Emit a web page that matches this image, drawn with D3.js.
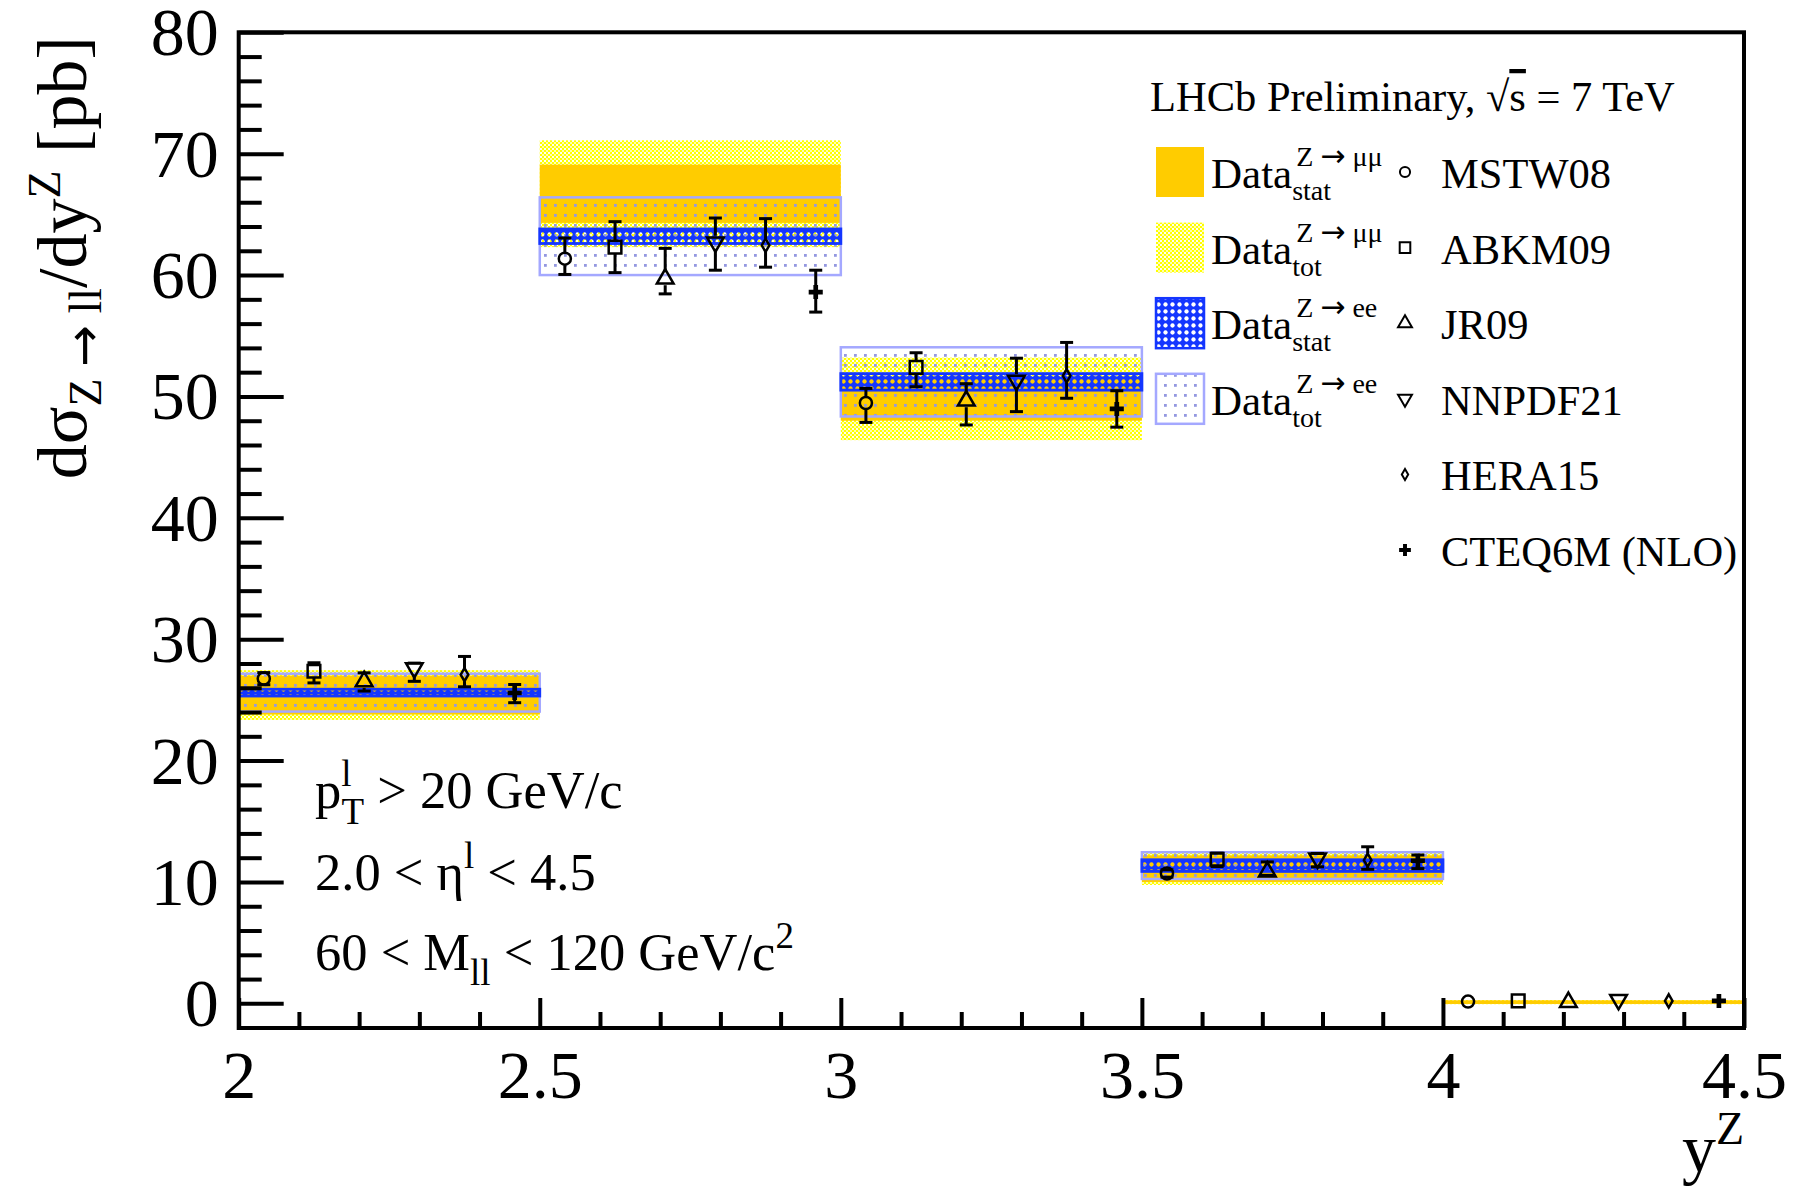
<!DOCTYPE html>
<html>
<head>
<meta charset="utf-8">
<script src="https://cdn.jsdelivr.net/npm/d3@7"></script>
<style>
  body { margin: 0; background: #fff; }
  svg { display: block; }
  text { font-family: "Liberation Serif", "Times New Roman", serif; fill: #000; }
  .arrow { font-family: "DejaVu Sans", sans-serif; }
</style>
</head>
<body>
<svg id="chart" width="1797" height="1197"></svg>
<script>
// ---- data: dσ(Z→ll)/dy in bins of boson rapidity [pb] ----
const binEdges = [2.0, 2.5, 3.0, 3.5, 4.0, 4.5];

// Z -> mu mu measurement: central value, statistical and total uncertainty
const mumuValue = [25.4, 66.7, 49.8, 11.1, 0.10];
const mumuStat  = [1.6, 2.4, 1.8, 1.1, 0.15];
const mumuTot   = [2.05, 4.4, 3.4, 1.35, 0.17];

// Z -> e e measurement (first four bins)
const eeValue = [25.6, 63.2, 51.2, 11.35];
const eeStat  = [0.28, 0.6, 0.68, 0.48];
const eeTot   = [1.56, 3.2, 2.85, 1.1];

// NLO predictions with different PDF sets: value, upper and lower uncertainty
const modelNames = ["MSTW08", "ABKM09", "JR09", "NNPDF21", "HERA15", "CTEQ6M (NLO)"];
const mstw08Value  = [26.75, 61.35, 49.46, 10.70, 0.15];
const mstw08Up     = [0.5, 1.7, 1.2, 0.3, 0];
const mstw08Down   = [0.5, 1.3, 1.6, 0.3, 0];
const abkm09Value  = [27.36, 62.3, 52.4, 11.87, 0.20];
const abkm09Up     = [0.7, 2.1, 1.2, 0.5, 0];
const abkm09Down   = [0.96, 2.1, 1.6, 0.6, 0];
const jr09Value    = [26.53, 59.7, 49.65, 10.85, 0.10];
const jr09Up       = [0.7, 2.5, 1.4, 0.8, 0];
const jr09Down     = [0.8, 1.25, 2.0, 0.3, 0];
const nnpdf21Value = [27.63, 62.7, 51.3, 11.95, 0.30];
const nnpdf21Up    = [0.4, 2.0, 1.85, 0.4, 0];
const nnpdf21Down  = [1.1, 2.3, 2.55, 0.7, 0];
const hera15Value  = [27.08, 62.45, 51.7, 11.8, 0.20];
const hera15Up     = [1.5, 2.2, 2.75, 1.1, 0];
const hera15Down   = [1.0, 1.8, 1.85, 0.76, 0];
const cteq6mValue  = [25.57, 58.6, 48.97, 11.75, 0.20];
const cteq6mUp     = [0.7, 1.8, 1.5, 0.47, 0];
const cteq6mDown   = [0.8, 1.65, 1.5, 0.65, 0];

const xTickValues = [2, 2.5, 3, 3.5, 4, 4.5];
const xTickLabels = ["2", "2.5", "3", "3.5", "4", "4.5"];
const yTickValues = [0, 10, 20, 30, 40, 50, 60, 70, 80];
const yTickLabels = ["0", "10", "20", "30", "40", "50", "60", "70", "80"];

// ---- layout ----
const svg = d3.select("#chart");
const frame = { left: 238.7, right: 1744, top: 32.3, bottom: 1028 };
const x = d3.scaleLinear().domain([2, 4.5]).range([frame.left, frame.right]);
const y = d3.scaleLinear().domain([-2.03, 80]).range([frame.bottom, frame.top]);

const ORANGE = "#ffcc00", YELLOW = "#ffff00", BLUE = "#1436ff", LIGHTBLUE = "#a4a8ff";

// ---- fill patterns ----
const defs = svg.append("defs");
// fine yellow checkerboard for the muon total uncertainty
const pMuTot = defs.append("pattern").attr("id", "patMuTot")
  .attr("width", 4).attr("height", 4).attr("patternUnits", "userSpaceOnUse");
pMuTot.append("rect").attr("width", 4).attr("height", 4).attr("fill", YELLOW);
pMuTot.append("rect").attr("x", 0).attr("y", 0).attr("width", 2).attr("height", 2).attr("fill", "#fffff0");
pMuTot.append("rect").attr("x", 2).attr("y", 2).attr("width", 2).attr("height", 2).attr("fill", "#ffffb0");

// sparse dots for the electron total uncertainty
const pEeTot = defs.append("pattern").attr("id", "patEeTot")
  .attr("width", 10).attr("height", 10).attr("patternUnits", "userSpaceOnUse");
pEeTot.append("rect").attr("x", 4).attr("y", 4).attr("width", 2.8).attr("height", 2.8).attr("fill", "#9498e0");

// blue lattice with round holes for the electron statistical uncertainty
const pEeStat = defs.append("pattern").attr("id", "patEeStat")
  .attr("width", 7).attr("height", 7).attr("patternUnits", "userSpaceOnUse");
pEeStat.append("path")
  .attr("d", "M0,0H7V7H0Z M3.5,1.3 a2.2,2.2 0 1,0 0.001,0Z")
  .attr("fill-rule", "evenodd").attr("fill", BLUE);

// ---- bands ----
const bands = svg.append("g");
const binX = i => x(binEdges[i]);
const binW = i => x(binEdges[i + 1]) - x(binEdges[i]);

function drawBand(values, errs, cls, fill, stroke, sw) {
  bands.selectAll("rect." + cls).data(values).join("rect")
    .attr("class", cls)
    .attr("x", (d, i) => binX(i))
    .attr("width", (d, i) => binW(i))
    .attr("y", (d, i) => y(d + errs[i]))
    .attr("height", (d, i) => y(d - errs[i]) - y(d + errs[i]))
    .attr("fill", fill)
    .attr("stroke", stroke)
    .attr("stroke-width", sw);
}
drawBand(mumuValue, mumuTot, "muTot", "url(#patMuTot)", "none", 0);
drawBand(mumuValue, mumuStat, "muStat", ORANGE, "none", 0);
drawBand(eeValue, eeTot, "eeTot", "url(#patEeTot)", LIGHTBLUE, 2.5);
drawBand(eeValue, eeStat, "eeStat", "url(#patEeStat)", BLUE, 2.8);

// ---- predictions ----
const models = [
  { v: mstw08Value, up: mstw08Up, dn: mstw08Down, sym: d3.symbolCircle, size: 115, fill: "none", rot: 0 },
  { v: abkm09Value, up: abkm09Up, dn: abkm09Down, sym: d3.symbolSquare, size: 160, fill: "none", rot: 0 },
  { v: jr09Value, up: jr09Up, dn: jr09Down, sym: d3.symbolTriangle, size: 120, fill: "none", rot: 0 },
  { v: nnpdf21Value, up: nnpdf21Up, dn: nnpdf21Down, sym: d3.symbolTriangle, size: 120, fill: "none", rot: 180 },
  { v: hera15Value, up: hera15Up, dn: hera15Down, sym: d3.symbolDiamond, size: 50, fill: "none", rot: 0 },
  { v: cteq6mValue, up: cteq6mUp, dn: cteq6mDown, sym: d3.symbolCross, size: 110, fill: "#000", rot: 0 }
];

const pts = svg.append("g");
const gap = 6.5, capHalf = 6.5;
models.forEach((m, k) => {
  m.v.forEach((val, i) => {
    const lo = binEdges[i], hi = binEdges[i + 1];
    const px = x(lo + (k + 0.5) * (hi - lo) / 6);
    const py = y(val);
    const yTop = y(val + m.up[i]), yBot = y(val - m.dn[i]);
    const g = pts.append("g");
    if (m.up[i] > 0) {
      if (py - yTop > gap) g.append("line").attr("x1", px).attr("x2", px).attr("y1", yTop).attr("y2", py - gap);
      g.append("line").attr("x1", px - capHalf).attr("x2", px + capHalf).attr("y1", yTop).attr("y2", yTop);
    }
    if (m.dn[i] > 0) {
      if (yBot - py > gap) g.append("line").attr("x1", px).attr("x2", px).attr("y1", py + gap).attr("y2", yBot);
      g.append("line").attr("x1", px - capHalf).attr("x2", px + capHalf).attr("y1", yBot).attr("y2", yBot);
    }
    g.selectAll("line").attr("stroke", "#000").attr("stroke-width", 3);
    g.append("path")
      .attr("d", d3.symbol().type(m.sym).size(m.size)())
      .attr("transform", `translate(${px},${py}) rotate(${m.rot})`)
      .attr("fill", m.fill)
      .attr("stroke", "#000")
      .attr("stroke-width", m.fill === "none" ? 2.5 : 0);
  });
});

// ---- axes ----
const minorX = d3.range(21, 45).map(v => v / 10).filter(v => Math.abs(v * 2 - Math.round(v * 2)) > 1e-6);
const minorY = d3.range(2, 80, 2).filter(v => v % 10 !== 0);

const axisStyle = sel => {
  sel.select(".domain").remove();
  sel.selectAll(".tick line").attr("stroke", "#000").attr("stroke-width", 4);
};

svg.append("g").attr("transform", `translate(0,${frame.bottom})`)
  .call(d3.axisBottom(x).tickValues(minorX).tickSize(-16).tickFormat(""))
  .call(axisStyle);
const xAxis = svg.append("g").attr("transform", `translate(0,${frame.bottom})`)
  .call(d3.axisBottom(x).tickValues(xTickValues).tickSize(-30)
    .tickFormat((d, i) => xTickLabels[i]))
  .call(axisStyle);
xAxis.selectAll(".tick text").attr("y", 70).attr("dy", 0)
  .attr("font-size", 68).attr("font-family", "Liberation Serif");

svg.append("g").attr("transform", `translate(${frame.left},0)`)
  .call(d3.axisLeft(y).tickValues(minorY).tickSize(-23).tickFormat(""))
  .call(axisStyle);
const yAxis = svg.append("g").attr("transform", `translate(${frame.left},0)`)
  .call(d3.axisLeft(y).tickValues(yTickValues).tickSize(-45).tickPadding(20)
    .tickFormat((d, i) => yTickLabels[i]))
  .call(axisStyle);
yAxis.selectAll(".tick text").attr("dy", "0.33em")
  .attr("font-size", 68).attr("font-family", "Liberation Serif");

// frame
svg.append("rect")
  .attr("x", frame.left).attr("y", frame.top)
  .attr("width", frame.right - frame.left).attr("height", frame.bottom - frame.top)
  .attr("fill", "none").attr("stroke", "#000").attr("stroke-width", 4);

// axis titles
const yTitle = svg.append("text")
  .attr("transform", `translate(86,${frame.top + 4}) rotate(-90)`)
  .attr("text-anchor", "end").attr("font-size", 70);
yTitle.append("tspan").text("dσ");
yTitle.append("tspan").attr("font-size", 46).attr("dy", 15).text("Z ");
yTitle.append("tspan").attr("font-size", 50).attr("class", "arrow").text("→");
yTitle.append("tspan").attr("font-size", 46).text(" ll");
yTitle.append("tspan").attr("dy", -15).text("/dy");
yTitle.append("tspan").attr("font-size", 46).attr("dy", -26).text("Z");
yTitle.append("tspan").attr("dy", 26).text(" [pb]");

const xTitle = svg.append("text")
  .attr("x", frame.right).attr("y", 1172)
  .attr("text-anchor", "end").attr("font-size", 68);
xTitle.append("tspan").text("y");
xTitle.append("tspan").attr("font-size", 46).attr("dy", -28).text("Z");

// ---- cuts annotation ----
const noteSize = 52.5, noteSub = 37;
const n1 = svg.append("text").attr("x", 315).attr("y", 808).attr("font-size", noteSize);
n1.append("tspan").text("p");
n1.append("tspan").attr("font-size", noteSub).attr("dy", -22).text("l");
n1.append("tspan").attr("font-size", noteSub).attr("dx", -10).attr("dy", 38).text("T");
n1.append("tspan").attr("dy", -16).text(" > 20 GeV/c");

const n2 = svg.append("text").attr("x", 315).attr("y", 890).attr("font-size", noteSize);
n2.append("tspan").text("2.0 < η");
n2.append("tspan").attr("font-size", noteSub).attr("dy", -22).text("l");
n2.append("tspan").attr("dy", 22).text(" < 4.5");

const n3 = svg.append("text").attr("x", 315).attr("y", 970).attr("font-size", noteSize);
n3.append("tspan").text("60 < M");
n3.append("tspan").attr("font-size", noteSub).attr("dy", 15).text("ll");
n3.append("tspan").attr("dy", -15).text(" < 120 GeV/c");
n3.append("tspan").attr("font-size", noteSub).attr("dy", -22).text("2");

// ---- legend ----
const legSize = 42.5;
const head = svg.append("text").attr("x", 1150).attr("y", 111).attr("font-size", legSize);
head.append("tspan").text("LHCb Preliminary, √");
head.append("tspan").attr("text-decoration", "overline").text("s");
head.append("tspan").text(" = 7 TeV");

const rowY = k => 172 + k * 75.6;
const dataEntries = [
  { fill: ORANGE, stroke: "none", sup: "μμ", sub: "stat" },
  { fill: "url(#patMuTot)", stroke: "none", sup: "μμ", sub: "tot" },
  { fill: "url(#patEeStat)", stroke: BLUE, sup: "ee", sub: "stat" },
  { fill: "url(#patEeTot)", stroke: LIGHTBLUE, sup: "ee", sub: "tot" }
];
const leg = svg.append("g");
dataEntries.forEach((e, k) => {
  const cy = rowY(k);
  leg.append("rect").attr("x", 1156).attr("y", cy - 25).attr("width", 48).attr("height", 50)
    .attr("fill", e.fill).attr("stroke", e.stroke).attr("stroke-width", e.stroke === "none" ? 0 : 2.5);
  const t = leg.append("text").attr("x", 1211).attr("y", cy + 16).attr("font-size", 43).text("Data");
  const w = t.node().getComputedTextLength();
  const sup = leg.append("text").attr("x", 1211 + w + 4).attr("y", cy - 6).attr("font-size", 28);
  sup.append("tspan").text("Z ");
  sup.append("tspan").attr("class", "arrow").attr("font-size", 30).text("→");
  sup.append("tspan").text(" " + e.sup);
  leg.append("text").attr("x", 1211 + w).attr("y", cy + 28).attr("font-size", 28).text(e.sub);
});
models.forEach((m, k) => {
  const cy = rowY(k);
  leg.append("path")
    .attr("d", d3.symbol().type(m.sym).size(m.size * 0.7)())
    .attr("transform", `translate(1405,${cy}) rotate(${m.rot})`)
    .attr("fill", m.fill).attr("stroke", "#000")
    .attr("stroke-width", m.fill === "none" ? 2 : 0);
  leg.append("text").attr("x", 1441).attr("y", cy + 16).attr("font-size", legSize).text(modelNames[k]);
});
</script>
</body>
</html>
